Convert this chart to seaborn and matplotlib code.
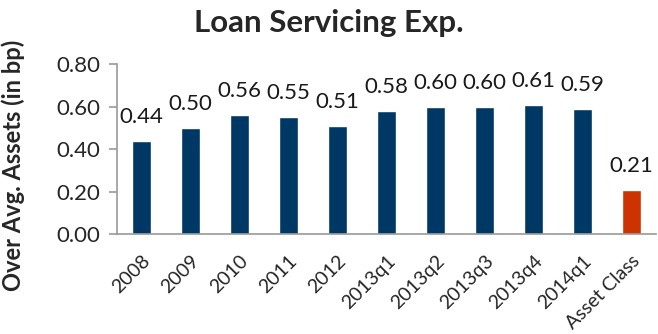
import matplotlib
matplotlib.use("Agg")
import matplotlib.pyplot as plt
import matplotlib.transforms as mtransforms
import seaborn as sns
import pandas as pd
import numpy as np

categories = ["2008", "2009", "2010", "2011", "2012", "2013q1", "2013q2",
              "2013q3", "2013q4", "2014q1", "Asset Class"]
values = [0.44, 0.50, 0.56, 0.55, 0.51, 0.58, 0.60, 0.60, 0.61, 0.59, 0.21]
groups = ["bank"] * 10 + ["asset"]

sns.set_style("white")
plt.rcParams['font.family'] = ['Lato', 'DejaVu Sans']

df = pd.DataFrame({"cat": categories, "val": values, "grp": groups})

fig = plt.figure(figsize=(6.58, 3.34), dpi=100)
ax = fig.add_axes([0.178, 0.299, 0.819, 0.509])
sns.barplot(data=df, x="cat", y="val", hue="grp",
            palette={"bank": "#003865", "asset": "#CC3300"},
            width=0.4, dodge=False, legend=False, ax=ax, saturation=1)

fs = 16
for i, v in enumerate(values):
    ax.text(i, v + 0.065, f"{v:.2f}", ha="center", va="bottom", fontsize=fs, color="#1a1a1a")

ax.set_ylim(0, 0.8)
ax.set_yticks([0, 0.2, 0.4, 0.6, 0.8])
ax.set_yticklabels([f"{t:.2f}" for t in [0, 0.2, 0.4, 0.6, 0.8]], fontsize=fs)
ax.set_xlim(-0.5, len(categories) - 0.5)
ax.set_xticks(range(len(categories)))
ax.set_xticklabels(categories, rotation=45, ha="right", rotation_mode="anchor", fontsize=14)
offset = mtransforms.ScaledTranslation(6 / 100, 0, fig.dpi_scale_trans)
for lab in ax.get_xticklabels():
    lab.set_transform(lab.get_transform() + offset)
ax.set_xticks(np.arange(-0.5, len(categories), 1), minor=True)
ax.tick_params(axis="x", which="major", length=0, pad=13)
ax.tick_params(axis="x", which="minor", length=5, color="#999999", width=1.2, direction="out")
ax.tick_params(axis="y", length=6, color="#999999", width=1.2, direction="out", left=True, pad=6)
for s in ["top", "right"]:
    ax.spines[s].set_visible(False)
for s in ["left", "bottom"]:
    ax.spines[s].set_color("#999999")
    ax.spines[s].set_linewidth(1.2)
ax.set_xlabel("")
ax.set_ylabel("Over Avg. Assets (in bp)", fontsize=17, fontweight="bold")
ax.yaxis.set_label_coords(-0.171, 0.405)
fig.text(0.5, 0.93, "Loan Servicing Exp.", ha="center", va="center", fontsize=22.5, fontweight="bold")

fig.savefig("out.png", dpi=100)
